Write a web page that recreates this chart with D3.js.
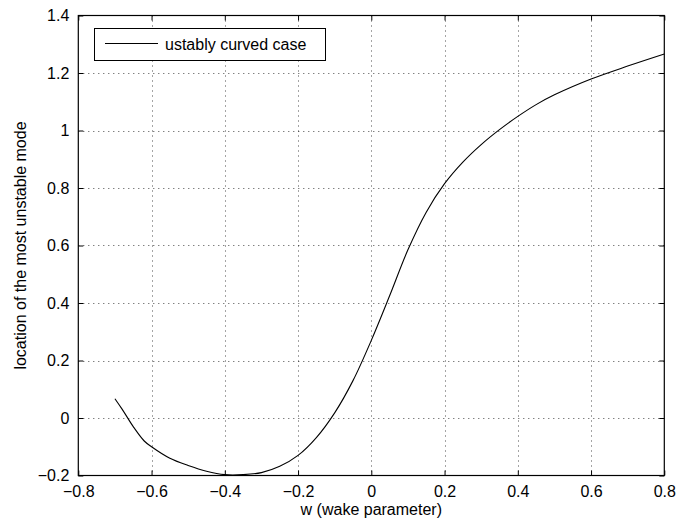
<!DOCTYPE html>
<html><head><meta charset="utf-8">
<script src="https://cdn.jsdelivr.net/npm/d3@7"></script>
<style>body{margin:0;background:#fff}svg{display:block}text{font-family:"Liberation Sans",Arial,sans-serif;}</style>
</head><body>
<script>
const wValues = [-0.70,-0.68,-0.65,-0.62,-0.60,-0.55,-0.50,-0.45,-0.40,-0.35,-0.30,-0.25,-0.20,-0.15,-0.10,-0.05,0.00,0.05,0.10,0.15,0.20,0.25,0.30,0.35,0.40,0.45,0.50,0.60,0.70,0.80];
const locValues = [0.067,0.030,-0.030,-0.080,-0.100,-0.140,-0.165,-0.185,-0.197,-0.197,-0.190,-0.168,-0.130,-0.068,0.018,0.130,0.270,0.425,0.585,0.716,0.815,0.890,0.951,1.003,1.049,1.090,1.124,1.179,1.224,1.266];
const xTicks = [-0.8,-0.6,-0.4,-0.2,0,0.2,0.4,0.6,0.8];
const yTicks = [-0.2,0,0.2,0.4,0.6,0.8,1,1.2,1.4];
const seriesName = "ustably curved case";
const xLabel = "w (wake parameter)";
const yLabel = "location of the most unstable mode";

const W=680,H=526;
const m={l:78.3,r:664.3,t:15.5,b:475.5};
const svg=d3.select("body").append("svg").attr("width",W).attr("height",H);
const x=d3.scaleLinear().domain([-0.8,0.8]).range([m.l,m.r]);
const y=d3.scaleLinear().domain([-0.2,1.4]).range([m.b,m.t]);
const fmt=v=>{const s=(Math.abs(v)<1e-9)?"0":String(+v.toFixed(1));return s.replace("-","\u2212");};

// grid
const g=svg.append("g");
g.selectAll(".gx").data(xTicks.slice(1,-1)).join("line")
 .attr("x1",d=>Math.round(x(d))+0.5).attr("x2",d=>Math.round(x(d))+0.5)
 .attr("y1",m.t).attr("y2",m.b).attr("stroke","#000").attr("stroke-width",1).attr("stroke-dasharray","1,4").attr("opacity",0.7);
g.selectAll(".gy").data(yTicks.slice(1,-1)).join("line")
 .attr("y1",d=>Math.round(y(d))+0.5).attr("y2",d=>Math.round(y(d))+0.5)
 .attr("x1",m.l).attr("x2",m.r).attr("stroke","#000").attr("stroke-width",1).attr("stroke-dasharray","1,4").attr("opacity",0.7);

// axes with inward ticks
const axB=d3.axisBottom(x).tickValues(xTicks).tickSizeInner(-5).tickSizeOuter(0).tickPadding(10).tickFormat(fmt);
const axL=d3.axisLeft(y).tickValues(yTicks).tickSizeInner(-5).tickSizeOuter(0).tickPadding(9).tickFormat(fmt);
const axT=d3.axisTop(x).tickValues(xTicks).tickSizeInner(-5).tickSizeOuter(0).tickFormat("");
const axR=d3.axisRight(y).tickValues(yTicks).tickSizeInner(-5).tickSizeOuter(0).tickFormat("");
function style(sel){sel.select(".domain").remove();sel.selectAll("line").attr("stroke","#000");sel.selectAll("text").attr("fill","#000").style("font-size","16px").style("font-family","'Liberation Sans',Arial,sans-serif");}
svg.append("g").attr("transform",`translate(0,${m.b})`).call(axB).call(style);
svg.append("g").attr("transform",`translate(${m.l},0)`).call(axL).call(style);
svg.append("g").attr("transform",`translate(0,${m.t})`).call(axT).call(style);
svg.append("g").attr("transform",`translate(${m.r},0)`).call(axR).call(style);
svg.append("rect").attr("x",m.l).attr("y",m.t).attr("width",m.r-m.l).attr("height",m.b-m.t).attr("fill","none").attr("stroke","#000").attr("stroke-width",1.2);

// curve
const data=wValues.map((w,i)=>({w,v:locValues[i]}));
svg.append("path").datum(data).attr("fill","none").attr("stroke","#000").attr("stroke-width",1.1)
 .attr("d",d3.line().x(d=>x(d.w)).y(d=>y(d.v)).curve(d3.curveCatmullRom.alpha(0.5)));

// labels
svg.append("text").attr("x",(m.l+m.r)/2).attr("y",515).attr("text-anchor","middle").style("font-size","16px").text(xLabel);
svg.append("text").attr("transform",`translate(26,${(m.t+m.b)/2}) rotate(-90)`).attr("text-anchor","middle").style("font-size","16px").text(yLabel);

// legend
const lg=svg.append("g");
lg.append("rect").attr("x",94.5).attr("y",28.5).attr("width",231).attr("height",32).attr("fill","#fff").attr("stroke","#000").attr("stroke-width",1);
lg.append("line").attr("x1",105).attr("x2",158).attr("y1",43.5).attr("y2",43.5).attr("stroke","#000").attr("stroke-width",1.1);
lg.append("text").attr("x",165).attr("y",50).style("font-size","16px").text(seriesName);
</script>
</body></html>
